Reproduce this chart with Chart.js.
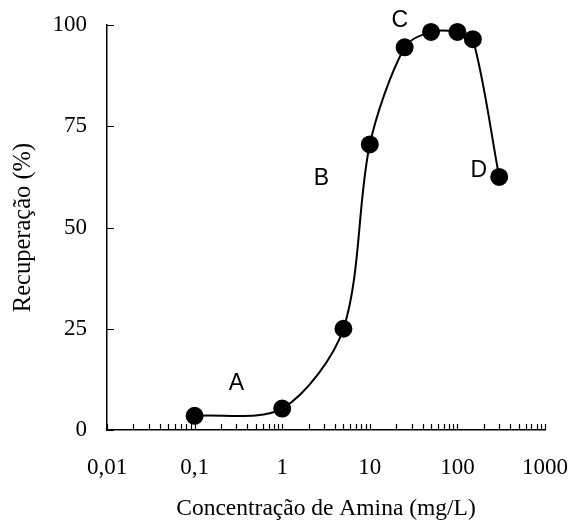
<!DOCTYPE html>
<html>
<head>
<meta charset="utf-8">
<script src="https://cdn.jsdelivr.net/npm/chart.js@4.4.1/dist/chart.umd.min.js"></script>
<style>
   html, body { margin: 0; padding: 0; background: #fff; }
   #wrap { width: 571px; height: 527px; }
</style>
</head>
<body>
<div id="wrap"><canvas id="chart"></canvas></div>
<script>
// amine concentration (mg/L) and recovery (%)
const concentration = [0.1, 1, 5, 10, 25, 50, 100, 150, 300];
const recovery = [3.5, 5.3, 25, 70.5, 94.5, 98.3, 98.3, 96.5, 62.5];

// axis ticks
const xDecades = [0.01, 0.1, 1, 10, 100, 1000];
const yTicks = [0, 25, 50, 75, 100];

// region letters, placed in data units
const regionText = ["A", "B", "C", "D"];
const regionX = [0.3, 2.8, 22, 176];
const regionY = [11.5, 62, 101, 64];

const serif = "'Liberation Serif', 'Times New Roman', serif";
const sans = "'Liberation Sans', Arial, sans-serif";

// inward tick marks + region letters
const extras = {
   id: "extras",
   afterDraw(chart) {
      const { ctx, scales } = chart;
      const x = scales.x;
      const y = scales.y;
      ctx.save();
      ctx.strokeStyle = "#000";
      ctx.lineWidth = 1.2;
      ctx.beginPath();
      yTicks.forEach((v) => {
         const py = Math.round(y.getPixelForValue(v)) + 0.5;
         ctx.moveTo(x.left, py);
         ctx.lineTo(x.left + 7, py);
      });
      for (let d = 0; d < xDecades.length - 1; d++) {
         for (let m = 1; m <= 10; m++) {
            const px = Math.round(x.getPixelForValue(xDecades[d] * m)) + 0.5;
            ctx.moveTo(px, y.bottom);
            ctx.lineTo(px, y.bottom - 6);
         }
      }
      ctx.stroke();

      ctx.fillStyle = "#000";
      ctx.font = "23px " + sans;
      ctx.textAlign = "center";
      ctx.textBaseline = "middle";
      regionText.forEach((t, i) => {
         ctx.fillText(t, x.getPixelForValue(regionX[i]), y.getPixelForValue(regionY[i]));
      });
      ctx.restore();
   },
};

const data = {
   datasets: [
      {
         data: concentration.map((c, i) => ({ x: c, y: recovery[i] })),
         borderColor: "#000",
         borderWidth: 2,
         backgroundColor: "#000",
         pointRadius: 8,
         pointHoverRadius: 8,
         tension: 0.3,
         clip: false,
      },
   ],
};

const config = {
   type: "line",
   data: data,
   options: {
      responsive: false,
      animation: false,
      events: [],
      layout: { padding: { top: 25, right: 26, left: 0, bottom: 0 } },
      plugins: { legend: { display: false }, tooltip: { enabled: false } },
      scales: {
         x: {
            type: "logarithmic",
            min: 0.01,
            max: 1000,
            afterBuildTicks: (scale) => {
               scale.ticks = xDecades.map((v) => ({ value: v, major: true }));
            },
            afterFit: (scale) => {
               scale.height = 97;
               scale.paddingLeft = 0;
               scale.paddingRight = 0;
            },
            grid: { display: false, drawTicks: false },
            border: { display: true, color: "#000", width: 1.5 },
            ticks: {
               autoSkip: false,
               maxRotation: 0,
               padding: 24,
               color: "#000",
               font: { family: serif, size: 23 },
               callback: (v) => String(v).replace(".", ","),
            },
            title: {
               display: true,
               text: "Concentração de Amina (mg/L)",
               color: "#000",
               font: { family: serif, size: 23.5 },
               padding: { top: 0, bottom: 4 },
            },
         },
         y: {
            min: 0,
            max: 100,
            afterBuildTicks: (scale) => {
               scale.ticks = yTicks.map((v) => ({ value: v }));
            },
            afterFit: (scale) => {
               scale.width = 107;
               scale.paddingTop = 0;
               scale.paddingBottom = 0;
            },
            grid: { display: false, drawTicks: false },
            border: { display: true, color: "#000", width: 1.5 },
            ticks: {
               padding: 20,
               color: "#000",
               font: { family: serif, size: 23 },
            },
            title: {
               display: true,
               text: "Recuperação (%)",
               color: "#000",
               font: { family: serif, size: 24.5 },
               padding: { top: 9, bottom: 0 },
            },
         },
      },
   },
   plugins: [extras],
};

const canvas = document.getElementById("chart");
canvas.width = 571;
canvas.height = 527;
const myChart = new Chart(canvas, config);
</script>
</body>
</html>
